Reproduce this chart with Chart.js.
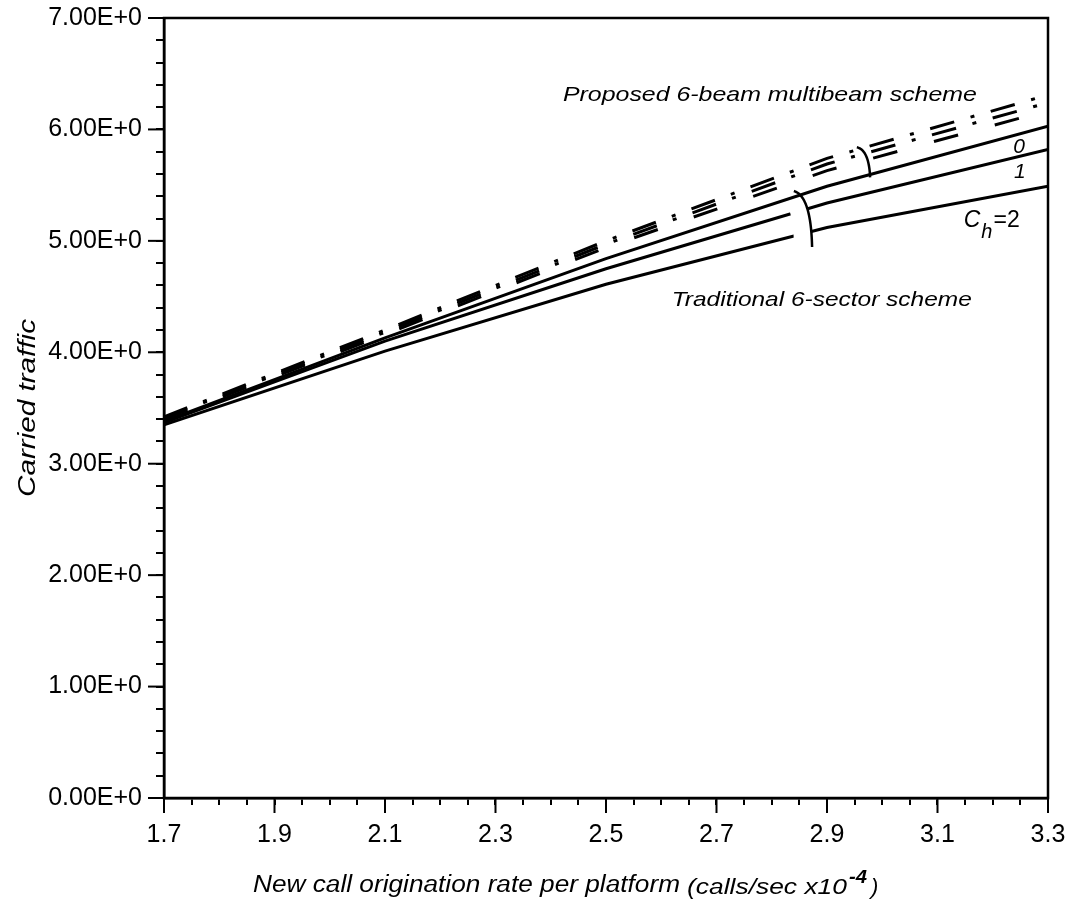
<!DOCTYPE html>
<html>
<head>
<meta charset="utf-8">
<script src="https://cdn.jsdelivr.net/npm/chart.js@4.4.1/dist/chart.umd.min.js"></script>
<style>
html,body{margin:0;padding:0;background:#fff;}
#wrap{width:1074px;height:905px;}
</style>
</head>
<body>
<div id="wrap"><canvas id="c" width="1074" height="905"></canvas></div>
<script>
// ---- data ----
const rates = [1.7, 2.1, 2.5, 2.9, 3.3];           // new call origination rate (calls/sec x10^-4)
const traditionalCh0 = [3.38, 4.13, 4.84, 5.49, 6.03];
const traditionalCh1 = [3.37, 4.10, 4.75, 5.34, 5.82];
const traditionalCh2 = [3.35, 4.01, 4.61, 5.12, 5.49];
const proposedA = [3.42, 4.20, 5.00, 5.74, 6.31];
const proposedB = [3.41, 4.18, 4.97, 5.69, 6.24];
const proposedC = [3.40, 4.16, 4.94, 5.63, 6.17];
const xMin = 1.7, xMax = 3.3, xStep = 0.05;
const yMin = 0, yMax = 7, yStep = 0.2;

const FONT = "'Liberation Sans', Arial, Helvetica, sans-serif";

// bracket arcs in data units (start, control, end)
const upperBracket = [[2.954, 5.84], [2.976, 5.815], [2.978, 5.57]];
const lowerBracket = [[2.840, 5.447], [2.871, 5.402], [2.873, 4.945]];

function series(label, vals, dash) {
  return {
    label,
    data: rates.map((r, i) => ({ x: r, y: vals[i] })),
    borderColor: '#000',
    backgroundColor: '#000',
    borderWidth: 3,
    borderDash: dash || [],
    pointRadius: 0,
    tension: 0,
    fill: false
  };
}

function drawStretched(ctx, text, x, y, font, width) {
  ctx.font = font;
  const w = ctx.measureText(text).width;
  const sx = width ? width / w : 1;
  ctx.save();
  ctx.translate(x, y);
  ctx.scale(sx, 1);
  ctx.textAlign = 'left';
  ctx.textBaseline = 'alphabetic';
  ctx.fillText(text, 0, 0);
  ctx.restore();
  return w * sx;
}

function bezierPts(x, y, br, t0, t1, dx) {
  const P = br.map(p => [x.getPixelForValue(p[0]), y.getPixelForValue(p[1])]);
  const pts = [];
  for (let k = 0; k <= 40; k++) {
    const t = t0 + (t1 - t0) * k / 40;
    const a = (1 - t) * (1 - t), b = 2 * t * (1 - t), c = t * t;
    pts.push([a * P[0][0] + b * P[1][0] + c * P[2][0] + (dx || 0),
              a * P[0][1] + b * P[1][1] + c * P[2][1]]);
  }
  return pts;
}
function strokePts(ctx, pts) {
  ctx.beginPath();
  pts.forEach((p, i) => i ? ctx.lineTo(p[0], p[1]) : ctx.moveTo(p[0], p[1]));
  ctx.stroke();
}

const overlay = {
  id: 'overlay',
  afterDatasetsDraw(chart) {
    const { ctx, scales: { x, y } } = chart;
    ctx.save();
    // gap in the traditional lines left of the lower bracket
    ctx.strokeStyle = '#fff';
    ctx.lineWidth = 18;
    ctx.lineCap = 'butt';
    strokePts(ctx, bezierPts(x, y, lowerBracket, 0.5, 1, -9));
    // brackets
    ctx.strokeStyle = '#000';
    ctx.lineWidth = 2.5;
    strokePts(ctx, bezierPts(x, y, upperBracket, 0, 1, 0));
    strokePts(ctx, bezierPts(x, y, lowerBracket, 0, 1, 0));
    ctx.restore();
  },
  afterDraw(chart) {
    const { ctx, chartArea: a, scales: { x, y } } = chart;
    ctx.save();
    ctx.fillStyle = '#000';
    ctx.strokeStyle = '#000';
    // frame
    ctx.lineWidth = 2.5;
    ctx.strokeRect(a.left, a.top, a.right - a.left, a.bottom - a.top);
    // major tick marks
    ctx.lineWidth = 2;
    y.ticks.forEach(t => {
      if (Math.abs(t.value - Math.round(t.value)) < 1e-6) {
        const py = y.getPixelForValue(t.value);
        ctx.beginPath(); ctx.moveTo(a.left - 16, py); ctx.lineTo(a.left, py); ctx.stroke();
      }
    });
    x.ticks.forEach((t, i) => {
      if (i % 4 === 0) {
        const px = x.getPixelForValue(t.value);
        ctx.beginPath(); ctx.moveTo(px, a.bottom); ctx.lineTo(px, a.bottom + 15); ctx.stroke();
      }
    });

    // y axis title
    ctx.save();
    ctx.translate(a.left - 136, (a.top + a.bottom) / 2);
    ctx.rotate(-Math.PI / 2);
    ctx.font = 'italic 24px ' + FONT;
    const wy = ctx.measureText('Carried traffic').width;
    ctx.scale(178 / wy, 1);
    ctx.textAlign = 'center';
    ctx.textBaseline = 'middle';
    ctx.fillText('Carried traffic', 0, 0);
    ctx.restore();

    // x axis title
    const bx = a.bottom + 94;
    drawStretched(ctx, 'New call origination rate per platform', a.left + 89, bx, 'italic 23px ' + FONT, 427);
    drawStretched(ctx, '(calls/sec x10', a.left + 523, bx + 2, 'italic 22px ' + FONT, 160);
    drawStretched(ctx, '-4', a.left + 685, bx - 9, 'italic bold 19px ' + FONT, 18);
    drawStretched(ctx, ')', a.left + 707, bx + 2, 'italic 22px ' + FONT, 0);

    // scheme labels
    drawStretched(ctx, 'Proposed 6-beam multibeam scheme',
      x.getPixelForValue(2.422), y.getPixelForValue(6.255), 'italic 21px ' + FONT, 414);
    drawStretched(ctx, 'Traditional 6-sector scheme',
      x.getPixelForValue(2.619), y.getPixelForValue(4.415), 'italic 21px ' + FONT, 300);

    // C_h labels
    ctx.font = 'italic 21px ' + FONT;
    ctx.textAlign = 'center';
    ctx.textBaseline = 'alphabetic';
    ctx.fillText('0', x.getPixelForValue(3.2475), y.getPixelForValue(5.788));
    ctx.fillText('1', x.getPixelForValue(3.249), y.getPixelForValue(5.564));
    let lx = x.getPixelForValue(3.1475);
    const ly = y.getPixelForValue(5.124);
    lx += drawStretched(ctx, 'C', lx, ly, 'italic 23px ' + FONT, 0);
    lx += drawStretched(ctx, 'h', lx + 1, ly + 11, 'italic 20px ' + FONT, 0) + 2;
    drawStretched(ctx, '=2', lx, ly, '23px ' + FONT, 0);
    ctx.restore();
  }
};

new Chart(document.getElementById('c'), {
  type: 'line',
  data: {
    datasets: [
      series('Proposed A', proposedA, [25, 17, 4, 17]),
      series('Proposed B', proposedB, [25, 17, 4, 17]),
      series('Proposed C', proposedC, [25, 38]),
      series('Traditional Ch=0', traditionalCh0),
      series('Traditional Ch=1', traditionalCh1),
      series('Traditional Ch=2', traditionalCh2)
    ]
  },
  options: {
    responsive: false,
    animation: false,
    devicePixelRatio: 1,
    events: [],
    layout: { padding: { top: 18, right: 26, left: 0, bottom: 0 } },
    plugins: { legend: { display: false }, tooltip: { enabled: false } },
    scales: {
      x: {
        type: 'linear', min: xMin, max: xMax,
        afterFit: s => { s.height = 107; s.paddingLeft = 0; s.paddingRight = 0; },
        ticks: {
          stepSize: xStep, autoSkip: false, maxRotation: 0, minRotation: 0,
          padding: 15, color: '#000', font: { family: FONT, size: 25 },
          callback: (v, i) => (i % 4 === 0 ? Number(v).toFixed(1) : '')
        },
        grid: { drawOnChartArea: false, drawTicks: true, tickLength: 7, color: '#000', lineWidth: 2 },
        border: { display: true, color: '#000', width: 2.5 }
      },
      y: {
        type: 'linear', min: yMin, max: yMax,
        afterFit: s => { s.width = 164; s.paddingTop = 0; s.paddingBottom = 0; },
        ticks: {
          stepSize: yStep, autoSkip: false, padding: 14, color: '#000',
          font: { family: FONT, size: 25 },
          callback: v => (Math.abs(v - Math.round(v)) < 1e-6 ? Math.round(v).toFixed(2) + 'E+0' : '')
        },
        grid: { drawOnChartArea: false, drawTicks: true, tickLength: 8, color: '#000', lineWidth: 2 },
        border: { display: true, color: '#000', width: 2.5 }
      }
    }
  },
  plugins: [overlay]
});
</script>
</body>
</html>
